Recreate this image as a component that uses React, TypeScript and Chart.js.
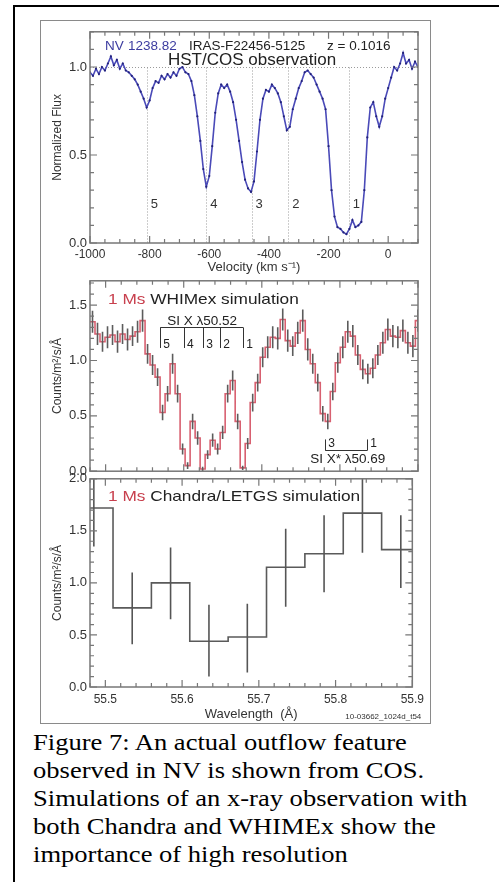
import React, { useEffect, useRef } from "react";
import { Chart, registerables } from "chart.js";
Chart.register(...registerables);

const SANS = '"Liberation Sans", Arial, Helvetica, sans-serif';
const TXT = "#333";
const FRAME = "#777";

// ---------- top panel: HST/COS NV profile ----------
const VELOCITY = [
  -1000, -990, -980, -970, -960, -950, -940, -930, -920, -910, -900, -890, -880, -870, -860, -850, -840, -830, -820, -810,
  -800, -790, -780, -770, -760, -750, -740, -730, -720, -710, -700, -690, -680, -670, -660, -650, -640, -630, -620, -610,
  -600, -590, -580, -570, -560, -550, -540, -530, -520, -510, -500, -490, -480, -470, -460, -450, -440, -430, -420, -410,
  -400, -390, -380, -370, -360, -350, -340, -330, -320, -310, -300, -290, -280, -270, -260, -250, -240, -230, -220, -210,
  -200, -190, -180, -170, -160, -150, -140, -130, -120, -110, -100, -90, -80, -70, -60, -50, -40, -30, -20, -10,
  0, 10, 20, 30, 40, 50, 60, 70, 80, 90, 100,
];
const NORM_FLUX = [
  0.97, 0.95, 0.99, 0.96, 1.0, 0.98, 1.02, 1.06, 1.01, 1.04, 0.99, 1.02, 0.98, 0.97, 0.95, 0.93, 0.9, 0.86, 0.82, 0.77,
  0.81, 0.88, 0.92, 0.91, 0.95, 0.93, 0.96, 0.94, 0.97, 0.95, 0.99, 1.0, 0.97, 0.96, 0.92, 0.84, 0.72, 0.58, 0.42, 0.32,
  0.38, 0.55, 0.74, 0.85, 0.9, 0.88, 0.9, 0.86, 0.8, 0.7, 0.58, 0.46, 0.36, 0.31, 0.29, 0.35, 0.52, 0.7, 0.82, 0.87,
  0.86, 0.9, 0.88, 0.85, 0.8, 0.72, 0.64, 0.66, 0.76, 0.82, 0.88, 0.92, 0.97, 0.98, 0.96, 0.94, 0.9, 0.86, 0.82, 0.76,
  0.55, 0.3, 0.15, 0.09, 0.08, 0.06, 0.05, 0.08, 0.13, 0.09, 0.1, 0.12, 0.3, 0.6, 0.77, 0.8, 0.72, 0.66, 0.72, 0.82,
  0.88, 0.94, 1.0, 0.98, 1.02, 1.08, 1.02, 1.04, 0.99, 1.03, 1.0,
];
const NV_COMPONENTS = [-810, -610, -458, -335, -132];
const COMPONENT_LABELS = ["5", "4", "3", "2", "1"];
const VEL_TICKS = [-1000, -800, -600, -400, -200, 0];
const FLUX_TICKS = [0, 0.5, 1.0];

// ---------- middle panel: WHIMex simulation ----------
const WHIM_START = 55.48;
const WHIM_BIN = 0.00641;
const WHIM_COUNTS = [
  1.35, 1.24, 1.17, 1.21, 1.23, 1.17, 1.24, 1.19, 1.22, 1.26, 1.36, 1.06, 0.96, 0.85, 0.53, 0.7, 0.97, 0.7, 0.2, 0.05,
  0.45, 0.3, 0.02, 0.15, 0.28, 0.2, 0.35, 0.7, 0.82, 0.45, 0.03, 0.25, 0.62, 0.8, 1.03, 1.12, 1.21, 1.2, 1.37, 1.18,
  1.13, 1.25, 1.36, 1.1, 0.97, 0.8, 0.52, 0.45, 0.72, 0.98, 1.12, 1.26, 1.22, 1.05, 0.92, 0.88, 0.93, 1.05, 1.16, 1.28,
  1.22, 1.21, 1.27, 1.16, 1.13, 1.36,
];
const WHIM_ERR = [
  0.1, 0.1, 0.09, 0.1, 0.09, 0.1, 0.09, 0.1, 0.09, 0.1, 0.1, 0.09, 0.09, 0.08, 0.07, 0.07, 0.09, 0.08, 0.05, 0.03,
  0.07, 0.06, 0.02, 0.04, 0.06, 0.05, 0.06, 0.08, 0.09, 0.07, 0.02, 0.05, 0.08, 0.08, 0.09, 0.1, 0.1, 0.1, 0.1, 0.1,
  0.09, 0.1, 0.1, 0.1, 0.09, 0.08, 0.07, 0.07, 0.08, 0.09, 0.1, 0.1, 0.1, 0.09, 0.09, 0.09, 0.09, 0.09, 0.1, 0.1,
  0.1, 0.1, 0.1, 0.1, 0.1, 0.1,
];
const SIX_COMPONENTS = [55.57, 55.6005, 55.625, 55.6467, 55.6762];
const SIXSTAR_COMPONENTS = [55.7813, 55.8351];
const SIXSTAR_LABELS = ["3", "1"];
const COUNT_TICKS_MID = [0, 0.5, 1.0, 1.5];

// ---------- bottom panel: Chandra/LETGS simulation ----------
const LETGS_EDGES = [55.46, 55.51, 55.56, 55.61, 55.66, 55.71, 55.76, 55.81, 55.86, 55.91];
const LETGS_COUNTS = [1.72, 0.76, 1.0, 0.44, 0.48, 1.15, 1.28, 1.67, 1.32];
const LETGS_ERR_LO = [1.35, 0.41, 0.65, 0.1, 0.14, 0.77, 0.91, 1.29, 0.95];
const LETGS_ERR_HI = [2.1, 1.1, 1.34, 0.79, 0.8, 1.52, 1.65, 2.05, 1.65];
const WAVE_TICKS = [55.5, 55.6, 55.7, 55.8, 55.9];
const COUNT_TICKS_BOT = [0, 0.5, 1.0, 1.5, 2.0];

function range(a: number, b: number, step: number) {
  const out: number[] = [];
  for (let v = a; v <= b + step * 1e-6; v += step) out.push(Math.round(v * 1e6) / 1e6);
  return out;
}

function stepPoints(edges: number[], counts: number[]) {
  const pts: { x: number; y: number }[] = [];
  counts.forEach((c, i) => {
    pts.push({ x: edges[i], y: c });
    pts.push({ x: edges[i + 1], y: c });
  });
  return pts;
}

function stretchText(ctx: CanvasRenderingContext2D, text: string, x: number, y: number, sx: number) {
  ctx.save();
  ctx.translate(x, y);
  ctx.scale(sx, 1);
  ctx.fillText(text, 0, 0);
  ctx.restore();
  return ctx.measureText(text).width * sx;
}

function drawFrame(chart: any, xMajor: number[], xMinor: number[], yMajor: number[], yMinor: number[]) {
  const { ctx, chartArea: a, scales } = chart;
  const xs = scales.x, ys = scales.y;
  ctx.save();
  ctx.strokeStyle = FRAME;
  ctx.lineWidth = 1.5;
  ctx.strokeRect(a.left, a.top, a.right - a.left, a.bottom - a.top);
  ctx.lineWidth = 1.2;
  ctx.beginPath();
  const xt = (vals: number[], len: number) => {
    vals.forEach((v) => {
      const px = xs.getPixelForValue(v);
      if (px < a.left - 0.5 || px > a.right + 0.5) return;
      ctx.moveTo(px, a.bottom);
      ctx.lineTo(px, a.bottom - len);
      ctx.moveTo(px, a.top);
      ctx.lineTo(px, a.top + len);
    });
  };
  const yt = (vals: number[], len: number) => {
    vals.forEach((v) => {
      const py = ys.getPixelForValue(v);
      if (py < a.top - 0.5 || py > a.bottom + 0.5) return;
      ctx.moveTo(a.left, py);
      ctx.lineTo(a.left + len, py);
      ctx.moveTo(a.right, py);
      ctx.lineTo(a.right - len, py);
    });
  };
  xt(xMajor, 7);
  xt(xMinor, 4);
  yt(yMajor, 7);
  yt(yMinor, 4);
  ctx.stroke();
  ctx.restore();
}

function baseScales(opts: any) {
  return {
    x: {
      type: "linear",
      min: opts.xmin,
      max: opts.xmax,
      display: opts.xDisplay,
      grid: { display: false, drawTicks: false },
      border: { display: false },
      afterBuildTicks: (s: any) => {
        s.ticks = opts.xTicks.map((v: number) => ({ value: v }));
      },
      afterFit: (s: any) => {
        s.height = opts.xHeight;
      },
      ticks: {
        font: { family: SANS, size: 12 },
        color: TXT,
        padding: opts.xPad ?? 4,
        maxRotation: 0,
        autoSkip: false,
        callback: opts.xFmt,
      },
      title: {
        display: !!opts.xTitle,
        text: opts.xTitle,
        font: { family: SANS, size: 13 },
        color: TXT,
        padding: { top: 0, bottom: opts.xTitlePad ?? 2 },
      },
    },
    y: {
      type: "linear",
      min: opts.ymin,
      max: opts.ymax,
      grid: { display: false, drawTicks: false },
      border: { display: false },
      afterBuildTicks: (s: any) => {
        s.ticks = opts.yTicks.map((v: number) => ({ value: v }));
      },
      afterFit: (s: any) => {
        s.width = 49;
      },
      ticks: {
        font: { family: SANS, size: 13 },
        color: TXT,
        padding: 3,
        autoSkip: false,
        callback: (v: number) => v.toFixed(1),
      },
      title: {
        display: true,
        text: opts.yTitle,
        font: { family: SANS, size: 12 },
        color: TXT,
        padding: { top: 9, bottom: 0 },
      },
    },
  };
}

function topConfig(): any {
  const annot = {
    id: "topAnnot",
    beforeDatasetsDraw(chart: any) {
      const { ctx, chartArea: a, scales } = chart;
      const xs = scales.x, ys = scales.y;
      ctx.save();
      ctx.strokeStyle = "#9a9a9a";
      ctx.lineWidth = 1;
      ctx.setLineDash([1, 2]);
      ctx.beginPath();
      const y1 = Math.round(ys.getPixelForValue(1.0)) + 0.5;
      ctx.moveTo(a.left, y1);
      ctx.lineTo(a.right, y1);
      NV_COMPONENTS.forEach((v) => {
        const px = Math.round(xs.getPixelForValue(v)) + 0.5;
        ctx.moveTo(px, y1);
        ctx.lineTo(px, a.bottom);
      });
      ctx.stroke();
      ctx.setLineDash([]);
      ctx.fillStyle = TXT;
      ctx.font = `13px ${SANS}`;
      ctx.textBaseline = "middle";
      NV_COMPONENTS.forEach((v, i) => {
        ctx.fillText(COMPONENT_LABELS[i], xs.getPixelForValue(v) + 4, ys.getPixelForValue(0.22));
      });
      ctx.restore();
    },
    afterDraw(chart: any) {
      const { ctx, chartArea: a } = chart;
      ctx.save();
      ctx.textBaseline = "alphabetic";
      ctx.font = `13.5px ${SANS}`;
      ctx.fillStyle = "#3c3ca0";
      ctx.fillText("NV", a.left + 15, a.top + 18);
      ctx.fillText("1238.82", a.left + 38, a.top + 18);
      ctx.fillStyle = "#222";
      ctx.fillText("IRAS-F22456-5125", a.left + 99, a.top + 18);
      ctx.fillText("z = 0.1016", a.left + 237, a.top + 18);
      ctx.font = `17px ${SANS}`;
      ctx.fillText("HST/COS observation", a.left + 78, a.top + 33);
      ctx.restore();
      drawFrame(chart, VEL_TICKS, range(-1000, 100, 50), FLUX_TICKS, range(0, 1.2, 0.1));
    },
  };
  return {
    type: "line",
    data: {
      datasets: [
        {
          data: VELOCITY.map((v, i) => ({ x: v, y: NORM_FLUX[i] })),
          borderColor: "#4a4ab8",
          borderWidth: 1.6,
          pointRadius: 1.1,
          pointBackgroundColor: "#23237a",
          pointBorderWidth: 0,
          tension: 0,
        },
      ],
    },
    options: {
      responsive: false,
      animation: false,
      layout: { padding: { top: 8, right: 11, left: 0, bottom: 0 } },
      plugins: { legend: { display: false }, tooltip: { enabled: false } },
      scales: baseScales({
        xmin: -1000,
        xmax: 100,
        xDisplay: true,
        xTicks: VEL_TICKS,
        xHeight: 34,
        xPad: 4,
        xFmt: (v: number) => String(v),
        xTitle: "Velocity (km s⁻¹)",
        xTitlePad: 2,
        ymin: 0,
        ymax: 1.2,
        yTicks: FLUX_TICKS,
        yTitle: "Normalized Flux",
      }),
    },
    plugins: [annot],
  };
}

function midConfig(): any {
  const edges = WHIM_COUNTS.map((_c, i) => WHIM_START + i * WHIM_BIN);
  edges.push(WHIM_START + WHIM_COUNTS.length * WHIM_BIN);
  const pts = stepPoints(edges, WHIM_COUNTS);
  const annot = {
    id: "midAnnot",
    afterDatasetsDraw(chart: any) {
      const { ctx, chartArea: a, scales } = chart;
      const xs = scales.x, ys = scales.y;
      ctx.save();
      ctx.beginPath();
      ctx.rect(a.left, a.top, a.right - a.left, a.bottom - a.top);
      ctx.clip();
      ctx.strokeStyle = "#5c5c5c";
      ctx.lineWidth = 1.6;
      ctx.beginPath();
      WHIM_COUNTS.forEach((c, i) => {
        const px = xs.getPixelForValue((edges[i] + edges[i + 1]) / 2);
        const e = WHIM_ERR[i] ?? 0.08;
        ctx.moveTo(px, ys.getPixelForValue(c - e));
        ctx.lineTo(px, ys.getPixelForValue(c + e));
      });
      ctx.stroke();
      ctx.restore();

      ctx.save();
      ctx.strokeStyle = "#333";
      ctx.lineWidth = 1;
      const by = Math.round(ys.getPixelForValue(1.304)) + 0.5;
      const bb = ys.getPixelForValue(1.113);
      ctx.beginPath();
      const x0 = xs.getPixelForValue(SIX_COMPONENTS[0]);
      const x1 = xs.getPixelForValue(SIX_COMPONENTS[SIX_COMPONENTS.length - 1]);
      ctx.moveTo(x0, by);
      ctx.lineTo(x1, by);
      SIX_COMPONENTS.forEach((w) => {
        const px = Math.round(xs.getPixelForValue(w)) + 0.5;
        ctx.moveTo(px, by);
        ctx.lineTo(px, bb);
      });
      const sy = Math.round(ys.getPixelForValue(0.191)) + 0.5;
      const st = ys.getPixelForValue(0.287);
      const s0 = xs.getPixelForValue(SIXSTAR_COMPONENTS[0]);
      const s1 = xs.getPixelForValue(SIXSTAR_COMPONENTS[1]);
      ctx.moveTo(s0, sy);
      ctx.lineTo(s1, sy);
      SIXSTAR_COMPONENTS.forEach((w) => {
        const px = Math.round(xs.getPixelForValue(w)) + 0.5;
        ctx.moveTo(px, sy);
        ctx.lineTo(px, st);
      });
      ctx.stroke();
      ctx.fillStyle = "#222";
      ctx.font = `12px ${SANS}`;
      ctx.textBaseline = "alphabetic";
      SIX_COMPONENTS.forEach((w, i) => {
        ctx.fillText(COMPONENT_LABELS[i], xs.getPixelForValue(w) + 3, ys.getPixelForValue(1.113));
      });
      SIXSTAR_COMPONENTS.forEach((w, i) => {
        ctx.fillText(SIXSTAR_LABELS[i], xs.getPixelForValue(w) + 3, ys.getPixelForValue(0.217));
      });
      ctx.font = `13.5px ${SANS}`;
      ctx.fillText("SI X λ50.52", xs.getPixelForValue(55.579), ys.getPixelForValue(1.32));
      ctx.fillText("SI X* λ50.69", xs.getPixelForValue(55.762), ys.getPixelForValue(0.078));
      ctx.font = `15px ${SANS}`;
      ctx.fillStyle = "#c8404e";
      const w1 = stretchText(ctx, "1 Ms ", a.left + 18, a.top + 23, 1.15);
      ctx.fillStyle = "#222";
      stretchText(ctx, "WHIMex simulation", a.left + 18 + w1, a.top + 23, 1.15);
      ctx.restore();
    },
    afterDraw(chart: any) {
      drawFrame(chart, WAVE_TICKS, range(55.48, 55.9, 0.02), COUNT_TICKS_MID, range(0, 1.7, 0.1));
    },
  };
  return {
    type: "line",
    data: {
      datasets: [
        {
          data: pts,
          borderColor: "#d86070",
          borderWidth: 1.6,
          pointRadius: 0,
          tension: 0,
        },
      ],
    },
    options: {
      responsive: false,
      animation: false,
      layout: { padding: { top: 7, right: 11, left: 0, bottom: 7 } },
      plugins: { legend: { display: false }, tooltip: { enabled: false } },
      scales: baseScales({
        xmin: 55.48,
        xmax: 55.9,
        xDisplay: false,
        xTicks: WAVE_TICKS,
        xHeight: 0,
        xFmt: (v: number) => v.toFixed(1),
        xTitle: "",
        ymin: 0,
        ymax: 1.72,
        yTicks: COUNT_TICKS_MID,
        yTitle: "Counts/m²/s/Å",
      }),
    },
    plugins: [annot],
  };
}

function botConfig(): any {
  const pts = stepPoints(LETGS_EDGES, LETGS_COUNTS);
  const annot = {
    id: "botAnnot",
    afterDatasetsDraw(chart: any) {
      const { ctx, chartArea: a, scales } = chart;
      const xs = scales.x, ys = scales.y;
      ctx.save();
      ctx.beginPath();
      ctx.rect(a.left, a.top, a.right - a.left, a.bottom - a.top);
      ctx.clip();
      ctx.strokeStyle = "#555";
      ctx.lineWidth = 1.6;
      ctx.beginPath();
      LETGS_COUNTS.forEach((_c, i) => {
        const px = xs.getPixelForValue((LETGS_EDGES[i] + LETGS_EDGES[i + 1]) / 2);
        ctx.moveTo(px, ys.getPixelForValue(LETGS_ERR_LO[i]));
        ctx.lineTo(px, ys.getPixelForValue(LETGS_ERR_HI[i]));
      });
      ctx.stroke();
      ctx.restore();
      ctx.save();
      ctx.font = `15px ${SANS}`;
      ctx.textBaseline = "alphabetic";
      ctx.fillStyle = "#c8404e";
      const w1 = stretchText(ctx, "1 Ms ", a.left + 18, a.top + 22, 1.15);
      ctx.fillStyle = "#222";
      stretchText(ctx, "Chandra/LETGS simulation", a.left + 18 + w1, a.top + 22, 1.15);
      ctx.restore();
    },
    afterDraw(chart: any) {
      const { ctx, chartArea: a } = chart;
      drawFrame(chart, WAVE_TICKS, range(55.48, 55.9, 0.02), COUNT_TICKS_BOT, range(0, 2.0, 0.1));
      ctx.save();
      ctx.font = `8px ${SANS}`;
      ctx.fillStyle = "#333";
      ctx.textAlign = "right";
      ctx.fillText("10-03662_1024d_t54", a.right + 9, a.bottom + 32);
      ctx.restore();
    },
  };
  return {
    type: "line",
    data: {
      datasets: [
        {
          data: pts,
          borderColor: "#5a5a5a",
          borderWidth: 1.6,
          pointRadius: 0,
          tension: 0,
        },
      ],
    },
    options: {
      responsive: false,
      animation: false,
      layout: { padding: { top: 7, right: 11, left: 0, bottom: 0 } },
      plugins: { legend: { display: false }, tooltip: { enabled: false } },
      scales: baseScales({
        xmin: 55.48,
        xmax: 55.9,
        xDisplay: true,
        xTicks: WAVE_TICKS,
        xHeight: 35,
        xPad: 5,
        xFmt: (v: number) => v.toFixed(1),
        xTitle: "Wavelength  (Å)",
        xTitlePad: 0,
        ymin: 0,
        ymax: 2.0,
        yTicks: COUNT_TICKS_BOT,
        yTitle: "Counts/m²/s/Å",
      }),
    },
    plugins: [annot],
  };
}

function ChartCanvas(props: { left: number; top: number; width: number; height: number; make: () => any }) {
  const ref = useRef<HTMLCanvasElement>(null);
  useEffect(() => {
    const chart = new Chart(ref.current as HTMLCanvasElement, props.make());
    return () => chart.destroy();
  }, []);
  return (
    <div style={{ position: "absolute", left: props.left, top: props.top, width: props.width, height: props.height }}>
      <canvas ref={ref} width={props.width} height={props.height} style={{ width: props.width, height: props.height, display: "block" }} />
    </div>
  );
}

export default function App() {
  return (
    <div style={{ position: "absolute", left: 0, top: 0, width: 499, height: 882, background: "#fff", overflow: "hidden" }}>
      <div style={{ position: "absolute", left: 13, top: 5, width: 486, height: 2, background: "#000" }} />
      <div style={{ position: "absolute", left: 13, top: 5, width: 2, height: 877, background: "#000" }} />
      <div style={{ position: "absolute", left: 40, top: 20, width: 389, height: 702, border: "1px solid #8a8a8a" }} />
      <ChartCanvas left={41} top={21} width={388} height={256} make={topConfig} />
      <ChartCanvas left={41} top={270} width={388} height={212} make={midConfig} />
      <ChartCanvas left={41} top={468} width={388} height={254} make={botConfig} />
      <div
        style={{
          position: "absolute",
          left: 33,
          top: 729,
          fontFamily: '"Liberation Serif", "Times New Roman", serif',
          fontSize: 22.5,
          lineHeight: "28px",
          color: "#000",
          whiteSpace: "nowrap",
          transform: "scaleX(1.18)",
          transformOrigin: "0 0",
        }}
      >
        Figure 7: An actual outflow feature
        <br />
        observed in NV is shown from COS.
        <br />
        Simulations of an x-ray observation with
        <br />
        both Chandra and WHIMEx show the
        <br />
        importance of high resolution
      </div>
    </div>
  );
}
